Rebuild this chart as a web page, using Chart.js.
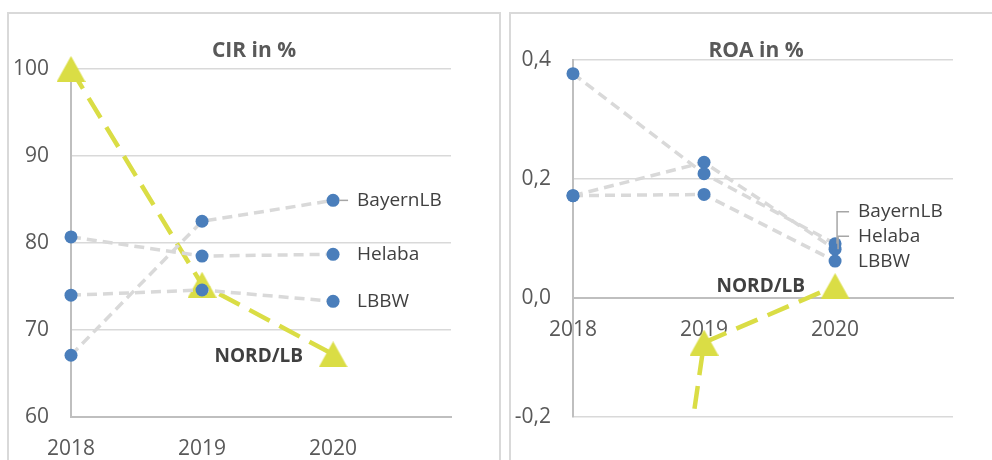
<!DOCTYPE html>
<html><head><meta charset="utf-8">
<script src="https://cdn.jsdelivr.net/npm/chart.js@4.4.1/dist/chart.umd.min.js"></script>
<style>
html,body{margin:0;padding:0;background:#fff;width:992px;height:460px;overflow:hidden;position:relative;font-family:'Open Sans',sans-serif;}
.panel{position:absolute;box-sizing:border-box;border:2px solid #d9d9d9;top:12px;height:480px;width:494px;}
#p1{left:7px}#p2{left:509px}
canvas{position:absolute;top:0}
#c1{left:0}#c2{left:502px}
</style></head><body>
<div class="panel" id="p1"></div><div class="panel" id="p2"></div>
<canvas id="c1" width="500" height="460"></canvas>
<canvas id="c2" width="490" height="460"></canvas>
<script>
// ---- data ----
const years = [2018, 2019, 2020];
const banks = ['BayernLB', 'Helaba', 'LBBW', 'NORD/LB'];
const cirBayernLB = [67.1, 82.5, 84.9];
const cirHelaba   = [80.7, 78.5, 78.7];
const cirLBBW     = [74.0, 74.6, 73.3];
const cirNordLB   = [100.0, 75.2, 67.2];
const roaBayernLB = [0.377, 0.209, 0.091];
const roaHelaba   = [0.172, 0.228, 0.082];
const roaLBBW     = [0.172, 0.174, 0.062];
const roaNordLB   = [-1.6, -0.075, 0.020];
const cirTicks = [60, 70, 80, 90, 100];
const roaTicks = [-0.2, 0, 0.2, 0.4];
const titles = ['CIR in %', 'ROA in %'];

// ---- styles ----
const FONT = "'Open Sans'";
const BLUE = '#4a7ebb';
const GRAYLINE = '#d9d9d9';
const YELLOW = '#dadd45';

function makeTriangle() {
  const c = document.createElement('canvas');
  c.width = 29; c.height = 26;
  const g = c.getContext('2d');
  g.fillStyle = YELLOW;
  g.beginPath();
  g.moveTo(14.5, 0); g.lineTo(29, 26); g.lineTo(0, 26); g.closePath();
  g.fill();
  return c;
}
const tri = makeTriangle();

function toXY(vals) { return years.map((y, i) => ({x: y, y: vals[i]})); }

function grayDs(label, vals) {
  return {
    label, data: toXY(vals),
    borderColor: GRAYLINE, borderWidth: 3.5, borderDash: [10, 6],
    pointRadius: 6.5, pointHoverRadius: 6.5,
    pointBackgroundColor: BLUE, pointBorderColor: BLUE, pointBorderWidth: 0,
    clip: false, tension: 0
  };
}
function nordDs(vals, clip) {
  return {
    label: banks[3], data: toXY(vals),
    borderColor: YELLOW, borderWidth: 4.5, borderDash: [23, 11],
    pointStyle: tri, pointRadius: 14, clip: clip, tension: 0
  };
}

function labelPlugin(title, specs) {
  return {
    id: 'lbls',
    afterDatasetsDraw(chart) {
      const ctx = chart.ctx;
      ctx.save();
      ctx.fillStyle = '#595959';
      ctx.font = 'bold 21px ' + FONT;
      ctx.textAlign = 'center';
      ctx.textBaseline = 'alphabetic';
      ctx.fillText(title, 254, 57);
      specs.forEach(s => {
        const pt = chart.getDatasetMeta(s.ds).data[2];
        const px = pt.x, py = pt.y;
        const lx = px + s.dx, ly = py + s.dy;
        if (s.leader) {
          ctx.strokeStyle = '#a6a6a6';
          ctx.lineWidth = 1.5;
          ctx.beginPath();
          s.leader(ctx, px, py, lx, ly);
          ctx.stroke();
        }
        ctx.fillStyle = '#404040';
        ctx.font = (s.bold ? 'bold ' : '') + '19px ' + FONT;
        ctx.textAlign = s.align;
        ctx.textBaseline = 'middle';
        ctx.fillText(s.text, lx, ly);
      });
      ctx.restore();
    }
  };
}

function makeChart(id, datasets, yMin, yMax, yTicks, fmt, xPos, padding, title, specs) {
  return new Chart(document.getElementById(id), {
    type: 'line',
    data: { datasets },
    options: {
      responsive: false, animation: false,
      layout: { padding },
      plugins: { legend: {display: false}, tooltip: {enabled: false} },
      scales: {
        x: {
          type: 'linear', min: 2018, max: 2020.9, position: xPos,
          afterBuildTicks: s => { s.ticks = years.map(v => ({value: v})); },
          afterFit: s => { s.height = (xPos === 'bottom') ? 43 : 0; },
          grid: { display: false, drawTicks: false },
          border: { display: true, color: '#bfbfbf', width: 2 },
          ticks: { padding: 19, color: '#595959', font: {family: FONT, size: 21}, callback: v => String(v), maxRotation: 0 }
        },
        y: {
          type: 'linear', min: yMin, max: yMax,
          afterBuildTicks: s => { s.ticks = yTicks.map(v => ({value: v})); },
          afterFit: s => { s.width = 71; },
          grid: { color: GRAYLINE, lineWidth: 1.5, drawTicks: false },
          border: { display: true, color: '#bfbfbf', width: 2 },
          ticks: { padding: 22, color: '#595959', font: {family: FONT, size: 21}, callback: fmt }
        }
      }
    },
    plugins: [labelPlugin(title, specs)]
  });
}

makeChart('c1',
  [grayDs(banks[0], cirBayernLB), grayDs(banks[1], cirHelaba), grayDs(banks[2], cirLBBW), nordDs(cirNordLB, false)],
  60, 100, cirTicks, v => String(v), 'bottom',
  {top: 69, right: 49, bottom: 0, left: 0}, titles[0],
  [
    {ds: 0, text: banks[0], dx: 24, dy: 0, align: 'left',
     leader: (c, px, py) => { c.moveTo(px + 6, py); c.lineTo(px + 15, py); }},
    {ds: 1, text: banks[1], dx: 24, dy: 0, align: 'left'},
    {ds: 2, text: banks[2], dx: 24, dy: 0, align: 'left'},
    {ds: 3, text: banks[3], dx: -30, dy: 2, align: 'right', bold: true}
  ]);

makeChart('c2',
  [grayDs(banks[0], roaBayernLB), grayDs(banks[1], roaHelaba), grayDs(banks[2], roaLBBW),
   nordDs(roaNordLB, {left: false, top: false, right: false, bottom: 0})],
  -0.2, 0.4, roaTicks, v => v.toFixed(1).replace('.', ','), {y: 0},
  {top: 60, right: 39, bottom: 43, left: 0}, titles[1],
  [
    {ds: 0, text: banks[0], dx: 23, dy: -32, align: 'left',
     leader: (c, px, py, lx, ly) => { c.moveTo(lx - 9, ly); c.lineTo(px + 2, ly); c.lineTo(px + 2, py); }},
    {ds: 1, text: banks[1], dx: 23, dy: -13, align: 'left',
     leader: (c, px, py, lx, ly) => { c.moveTo(lx - 9, ly); c.lineTo(px + 3, ly); c.lineTo(px + 3, py); }},
    {ds: 2, text: banks[2], dx: 23, dy: 0, align: 'left'},
    {ds: 3, text: banks[3], dx: -30, dy: 0, align: 'right', bold: true}
  ]);
</script>
</body></html>
